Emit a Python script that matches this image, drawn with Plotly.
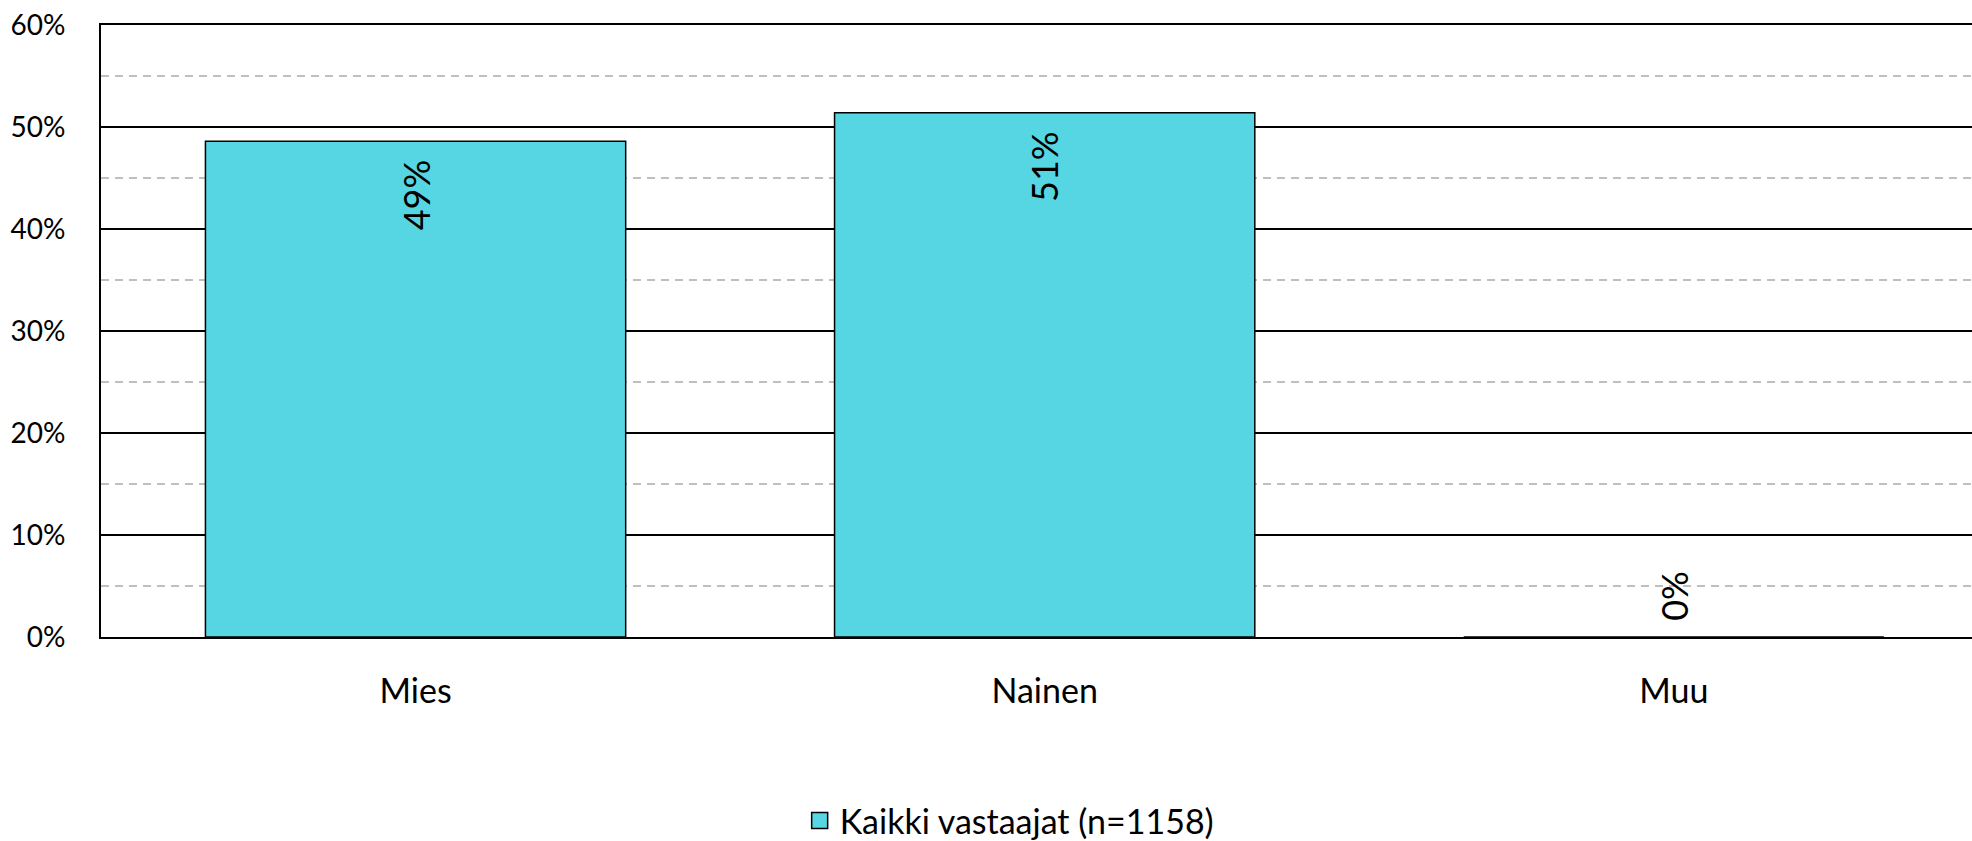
import plotly.graph_objects as go

categories = ["Mies", "Nainen", "Muu"]
values = [48.6, 51.4, 0.0]
labels = ["49%", "51%", "0%"]
series_name = "Kaikki vastaajat (n=1158)"

FONT = "Lato"
BAR_COLOR = "#55D6E2"
fig = go.Figure()
fig.add_trace(go.Bar(
    x=categories, y=values, name=series_name,
    marker=dict(color=BAR_COLOR, line=dict(color="#000000", width=1.5)),
    width=0.668, showlegend=False, hoverinfo="skip",
))
# legend entry with a larger square swatch
fig.add_trace(go.Scatter(
    x=[None], y=[None], mode="markers", name=series_name,
    marker=dict(symbol="square", size=20, color=BAR_COLOR, line=dict(color="#000", width=1.5)),
))

for c, v, t in zip(categories, values, labels):
    if v > 5:
        fig.add_annotation(x=c, y=v, text=t, textangle=-90, showarrow=False,
                           yanchor="top", yshift=-16, font=dict(size=36, color="#000", family=FONT))
    else:
        fig.add_annotation(x=c, y=v, text=t, textangle=-90, showarrow=False,
                           yanchor="bottom", yshift=14, font=dict(size=36, color="#000", family=FONT))

fig.update_layout(
    width=1972, height=841, autosize=False,
    margin=dict(l=101, r=0, t=25, b=204),
    plot_bgcolor="white", paper_bgcolor="white",
    font=dict(family=FONT, color="#000"),
    legend=dict(orientation="h", xref="container", yref="container", x=0.512, xanchor="center",
                y=0.024, yanchor="middle", font=dict(size=34, family=FONT), itemsizing="trace"),
    xaxis=dict(range=[-0.5, 2.474], showgrid=False, showline=True, mirror=True, linecolor="#000", linewidth=2,
               ticks="", tickfont=dict(size=34, family=FONT), ticklabelstandoff=23),
    yaxis=dict(range=[0, 60], dtick=10, ticksuffix="%", showgrid=True, gridcolor="#000", gridwidth=1.5,
               showline=True, linecolor="#000", linewidth=2, zeroline=False, ticks="",
               tickfont=dict(size=28, family=FONT), ticklabelstandoff=28,
               minor=dict(dtick=5, showgrid=True, gridcolor="#bfbfbf", gridwidth=2, griddash="8px,6px")),
)

fig.write_html("out.html", config={"displayModeBar": False},
               post_script="document.body.style.margin='0';document.body.style.overflow='hidden';")
